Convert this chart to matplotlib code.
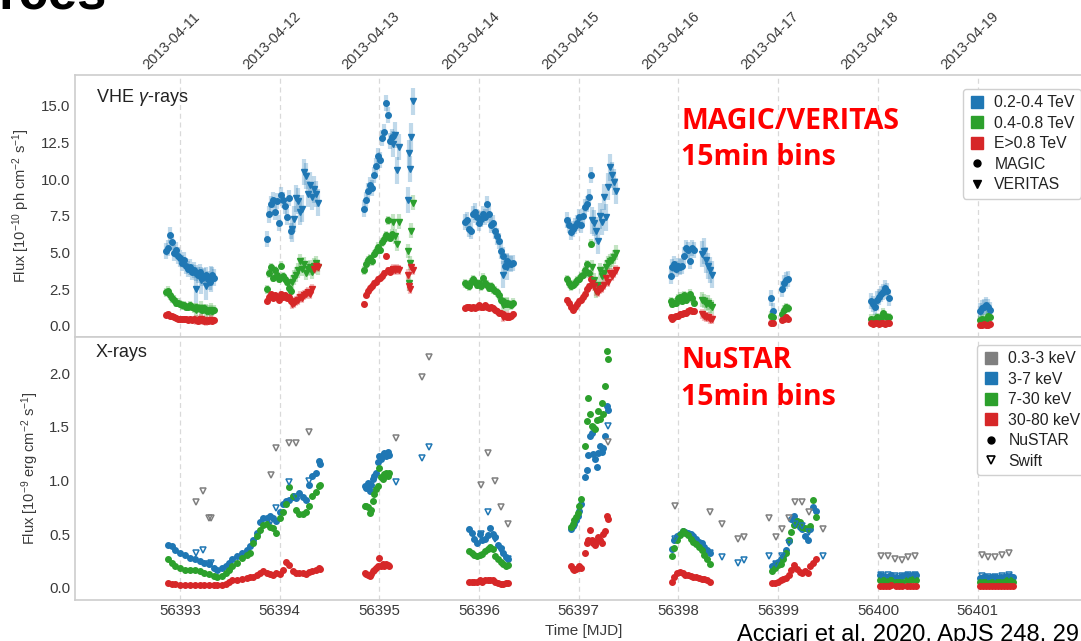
import matplotlib
matplotlib.use("Agg")
import matplotlib.pyplot as plt
from matplotlib.lines import Line2D
from matplotlib.transforms import ScaledTranslation

plt.rcParams['font.family'] = ['Liberation Sans', 'DejaVu Sans']
plt.rcParams['mathtext.fontset'] = 'custom'
plt.rcParams['mathtext.rm'] = 'Liberation Sans'
plt.rcParams['mathtext.it'] = 'Liberation Sans:italic'
plt.rcParams['mathtext.bf'] = 'Liberation Sans:bold'

# ------------------------------------------------------------------ data
mjd_ticks = [56393, 56394, 56395, 56396, 56397, 56398, 56399, 56400, 56401]
date_labels = ['2013-04-11', '2013-04-12', '2013-04-13', '2013-04-14', '2013-04-15',
               '2013-04-16', '2013-04-17', '2013-04-18', '2013-04-19']
vhe_bands = ['0.2-0.4 TeV', '0.4-0.8 TeV', 'E>0.8 TeV']
xray_bands = ['0.3-3 keV', '3-7 keV', '7-30 keV', '30-80 keV']

# MAGIC, 15 min bins  (flux in 1e-10 ph cm-2 s-1)
magic_t = [56392.86, 56392.88, 56392.90, 56392.92, 56392.94, 56392.96, 56392.98, 56393.00, 56393.02, 56393.04,
           56393.06, 56393.08, 56393.10, 56393.12, 56393.14, 56393.16, 56393.18, 56393.20, 56393.22, 56393.24,
           56393.26, 56393.28, 56393.30, 56393.32, 56393.34,
           56393.87, 56393.89, 56393.91, 56393.93, 56393.95, 56393.97, 56393.99, 56394.01, 56394.03, 56394.05,
           56394.07, 56394.09, 56394.11,
           56394.85, 56394.87, 56394.89, 56394.91, 56394.93, 56394.95, 56394.97, 56394.99, 56395.01, 56395.03,
           56395.05, 56395.07, 56395.09, 56395.11, 56395.13,
           56395.86, 56395.88, 56395.90, 56395.92, 56395.94, 56395.96, 56395.98, 56396.00, 56396.02, 56396.04,
           56396.06, 56396.08, 56396.10, 56396.12, 56396.14, 56396.16, 56396.18, 56396.20, 56396.22, 56396.24,
           56396.26, 56396.28, 56396.30, 56396.32, 56396.34,
           56396.88, 56396.90, 56396.92, 56396.94, 56396.96, 56396.98, 56397.00, 56397.02, 56397.04, 56397.06,
           56397.08, 56397.10, 56397.12,
           56397.92, 56397.94, 56397.96, 56397.98, 56398.00, 56398.02, 56398.04, 56398.06, 56398.08, 56398.10,
           56398.12, 56398.14, 56398.16,
           56398.93, 56398.95, 56399.04, 56399.06, 56399.08, 56399.10,
           56399.93, 56399.95, 56399.97, 56399.99, 56400.01, 56400.03, 56400.05, 56400.07, 56400.09, 56400.11,
           56401.02, 56401.04, 56401.06, 56401.08, 56401.10, 56401.12]
magic_lo = [5.1, 5.3, 6.2, 5.7, 5.0, 5.2, 4.8, 4.6, 4.3, 4.5, 4.1, 3.9, 4.0, 3.7, 3.8, 3.6, 3.5, 3.7, 3.3, 3.4,
            3.5, 3.2, 3.0, 3.5, 3.3,
            5.9, 7.6, 8.3, 8.6, 7.8, 8.5, 7.0, 8.9, 8.6, 8.2, 7.4, 8.7, 6.5,
            8.0, 8.6, 9.2, 9.6, 9.4, 10.3, 10.9, 11.6, 11.3, 12.8, 13.2, 15.2, 14.4, 12.6, 12.9,
            7.1, 7.2, 6.6, 6.5, 7.6, 7.8, 7.4, 7.0, 7.3, 7.6, 7.4, 8.3, 7.6, 6.9, 7.0, 6.5, 6.1, 5.8, 5.1, 4.8,
            4.1, 4.4, 4.3, 4.2, 4.3,
            7.2, 6.9, 6.4, 6.6, 6.8, 7.0, 7.4, 6.9, 7.5, 8.1, 8.3, 8.8, 10.3,
            3.4, 4.0, 4.2, 3.9, 4.1, 4.0, 4.1, 4.8, 5.3, 5.2, 4.4, 5.3, 5.2,
            1.9, 1.0, 2.5, 2.9, 3.1, 3.2,
            1.7, 1.5, 1.3, 1.8, 2.0, 2.2, 2.3, 2.6, 2.4, 1.9,
            1.0, 1.2, 1.3, 1.4, 1.3, 1.1]
magic_mid = [2.3, 2.4, 2.1, 1.9, 1.8, 1.6, 1.6, 1.5, 1.4, 1.4, 1.3, 1.3, 1.4, 1.3, 1.2, 1.3, 1.2, 1.2, 1.1, 1.2,
             1.1, 1.0, 1.1, 1.0, 1.1,
             2.5, 3.6, 4.0, 3.3, 3.8, 3.5, 3.2, 4.1, 3.4, 3.2, 3.0, 2.6, 2.4,
             3.8, 4.2, 4.5, 4.6, 4.4, 4.9, 5.1, 5.4, 5.2, 5.7, 5.9, 6.2, 7.2, 6.0, 6.3,
             2.9, 2.8, 2.7, 3.0, 3.2, 3.0, 2.8, 2.9, 2.7, 3.3, 2.9, 2.8, 2.6, 2.7, 2.5, 2.4, 2.3, 2.1, 1.8, 1.7,
             1.5, 1.6, 1.5, 1.4, 1.6,
             3.2, 2.9, 2.7, 2.8, 2.9, 3.1, 3.2, 3.4, 3.5, 3.8, 4.2, 3.6, 5.6,
             1.7, 1.5, 1.6, 1.6, 1.9, 2.0, 1.7, 2.1, 1.8, 2.0, 2.2, 1.9, 1.6,
             0.7, 0.6, 0.8, 1.1, 1.3, 1.2,
             0.5, 0.4, 0.5, 0.6, 0.5, 0.6, 0.9, 0.7, 0.6, 0.6,
             0.4, 0.5, 0.4, 0.5, 0.7, 0.6]
magic_hi = [0.75, 0.8, 0.7, 0.65, 0.6, 0.55, 0.5, 0.5, 0.45, 0.5, 0.45, 0.4, 0.45, 0.4, 0.45, 0.4, 0.35, 0.4, 0.4,
            0.35, 0.4, 0.35, 0.4, 0.35, 0.4,
            1.7, 2.0, 2.2, 1.9, 2.1, 2.0, 1.8, 2.2, 2.0, 2.1, 1.9, 2.0, 1.7,
            1.5, 2.1, 2.4, 2.6, 2.7, 2.9, 3.0, 3.2, 3.3, 3.4, 3.6, 4.8, 3.8, 3.7, 3.9,
            1.2, 1.3, 1.3, 1.2, 1.3, 1.2, 1.3, 1.4, 1.3, 1.3, 1.4, 1.3, 1.2, 1.3, 1.2, 1.1, 1.0, 0.9, 0.9, 0.8,
            0.7, 0.6, 0.6, 0.7, 0.8,
            1.8, 1.6, 1.3, 1.1, 1.3, 1.5, 1.7, 1.8, 2.0, 2.2, 2.5, 2.7, 3.2,
            0.6, 0.5, 0.6, 0.7, 0.7, 0.8, 0.8, 0.9, 0.9, 1.0, 1.1, 1.0, 1.0,
            0.2, 0.2, 0.4, 0.5, 0.6, 0.5,
            0.2, 0.15, 0.2, 0.2, 0.15, 0.2, 0.2, 0.15, 0.2, 0.2,
            0.1, 0.1, 0.15, 0.1, 0.1, 0.15]
magic_err = [0.55, 0.3, 0.2]          # typical 1-sigma per band

# VERITAS, 15 min bins
veritas_t = [56393.16, 56393.21, 56393.26, 56393.31,
             56394.12, 56394.14, 56394.16, 56394.18, 56394.20, 56394.22, 56394.24, 56394.26, 56394.28, 56394.30,
             56394.32, 56394.34, 56394.36, 56394.38,
             56395.14, 56395.16, 56395.18, 56395.20, 56395.29, 56395.30, 56395.31, 56395.32, 56395.34,
             56396.24, 56396.28,
             56397.13, 56397.15, 56397.17, 56397.19, 56397.21, 56397.23, 56397.25, 56397.27, 56397.29, 56397.31,
             56397.33, 56397.35, 56397.37,
             56398.24, 56398.26, 56398.28, 56398.30, 56398.32, 56398.34]
veritas_lo = [2.5, 3.1, 2.7, 3.2,
              6.6, 7.3, 8.7, 8.5, 7.8, 8.0, 10.5, 10.2, 9.0, 9.6, 8.8, 9.3, 9.0, 8.4,
              12.4, 13.0, 10.6, 12.2, 8.6, 11.8, 10.7, 12.9, 15.3,
              3.5, 4.0,
              7.2, 7.0, 6.5, 5.8, 7.5, 7.1, 8.8, 7.4, 9.5, 10.8, 10.3, 9.8, 9.2,
              4.9, 5.1, 4.5, 4.1, 3.8, 3.5]
veritas_mid = [1.1, 1.2, 1.0, 1.1,
               3.0, 3.3, 3.5, 3.8, 4.4, 3.9, 4.2, 3.6, 3.9, 4.0, 3.7, 4.1, 4.3, 4.0,
               7.1, 6.1, 5.6, 7.1, 5.1, 2.9, 4.3, 6.5, 8.4,
               1.4, 1.5,
               4.0, 3.1, 2.4, 2.8, 3.8, 3.4, 3.6, 4.0, 4.3, 4.4, 4.5, 4.7, 5.0,
               1.8, 1.7, 1.5, 1.6, 1.4, 1.3]
veritas_hi = [0.4, 0.45, 0.35, 0.4,
              1.5, 1.6, 1.7, 1.8, 2.0, 1.9, 2.1, 2.2, 2.3, 2.2, 2.5, 3.9, 4.1, 4.0,
              3.9, 3.8, 3.9, 3.8, 3.5, 2.7, 2.5, 4.0, 3.8,
              0.6, 0.7,
              2.9, 2.7, 2.4, 2.3, 2.5, 2.6, 2.8, 3.3, 3.0, 3.6, 3.4, 3.6, 3.8,
              0.8, 0.7, 0.6, 0.6, 0.5, 0.5]
veritas_err = [0.9, 0.5, 0.35]

# NuSTAR, 15 min bins (flux in 1e-9 erg cm-2 s-1)
nustar_t = [56392.885, 56392.918, 56392.951, 56393.000, 56393.049, 56393.098, 56393.148, 56393.197, 56393.246,
            56393.295, 56393.344, 56393.377, 56393.426, 56393.459, 56393.492, 56393.525, 56393.574, 56393.623,
            56393.672, 56393.705, 56393.738, 56393.770, 56393.803, 56393.836, 56393.869, 56393.902, 56393.934,
            56393.967, 56394.000, 56394.033, 56394.066, 56394.098, 56394.131, 56394.164, 56394.197, 56394.230,
            56394.262, 56394.295, 56394.328, 56394.361, 56394.393, 56394.410,
            56394.852, 56394.869, 56394.885, 56394.902, 56394.918, 56394.934, 56394.951, 56394.967, 56394.984,
            56395.000, 56395.016, 56395.033, 56395.049, 56395.066, 56395.082, 56395.098,
            56395.902, 56395.928, 56395.954, 56395.980, 56396.007, 56396.033, 56396.059, 56396.085, 56396.111,
            56396.138, 56396.164, 56396.190, 56396.216, 56396.243, 56396.269, 56396.295,
            56396.922, 56396.939, 56396.956, 56396.973, 56396.990, 56397.007, 56397.024,
            56397.061, 56397.078, 56397.095, 56397.112, 56397.129, 56397.146, 56397.163, 56397.180, 56397.197,
            56397.214, 56397.231, 56397.247, 56397.264, 56397.281, 56397.298,
            56397.932, 56397.959, 56397.986, 56398.014, 56398.041, 56398.068, 56398.095, 56398.122, 56398.149,
            56398.176, 56398.203, 56398.231, 56398.258, 56398.285, 56398.312,
            56398.942, 56398.969, 56398.997, 56399.024, 56399.051, 56399.078, 56399.105, 56399.132, 56399.159,
            56399.186, 56399.214, 56399.241, 56399.268, 56399.295, 56399.322, 56399.349, 56399.376,
            56400.02, 56400.05, 56400.08, 56400.11, 56400.13, 56400.18, 56400.21, 56400.24, 56400.29, 56400.32,
            56400.35, 56400.38,
            56401.02, 56401.05, 56401.08, 56401.11, 56401.14, 56401.17, 56401.20, 56401.23, 56401.26, 56401.29,
            56401.32, 56401.35]
nustar_3_7 = [0.40, 0.39, 0.35, 0.33, 0.31, 0.28, 0.27, 0.25, 0.23, 0.22, 0.19, 0.17, 0.19, 0.20, 0.23, 0.27,
              0.30, 0.33, 0.35, 0.39, 0.45, 0.51, 0.61, 0.65, 0.65, 0.67, 0.65, 0.62, 0.71, 0.78, 0.81, 0.82,
              0.85, 0.84, 0.88, 0.85, 0.82, 0.96, 1.04, 1.07, 1.18, 1.15,
              0.95, 0.93, 0.98, 0.90, 0.96, 1.01, 1.04, 1.07, 1.17, 1.23, 1.20, 1.24, 1.26, 1.23, 1.27, 1.24,
              0.55, 0.51, 0.46, 0.42, 0.50, 0.45, 0.46, 0.49, 0.56, 0.50, 0.47, 0.40, 0.37, 0.33, 0.29, 0.27,
              0.55, 0.58, 0.60, 0.63, 0.67, 0.72, 0.78,
              1.03, 1.10, 1.24, 1.41, 1.44, 1.25, 1.20, 1.13, 1.26, 1.32, 1.27, 1.30, 1.41, 1.69, 1.66,
              0.36, 0.45, 0.48, 0.50, 0.53, 0.52, 0.51, 0.50, 0.48, 0.46, 0.43, 0.42, 0.38, 0.35, 0.33,
              0.20, 0.22, 0.24, 0.27, 0.30, 0.35, 0.44, 0.64, 0.67, 0.62, 0.57, 0.55, 0.48, 0.45, 0.55, 0.75, 0.72,
              0.12, 0.11, 0.10, 0.11, 0.12, 0.10, 0.09, 0.11, 0.12, 0.11, 0.12, 0.12,
              0.09, 0.10, 0.10, 0.09, 0.10, 0.10, 0.09, 0.10, 0.10, 0.11, 0.11, 0.10]
nustar_7_30 = [0.27, 0.23, 0.20, 0.19, 0.17, 0.17, 0.17, 0.16, 0.14, 0.13, 0.11, 0.10, 0.11, 0.14, 0.17, 0.20,
               0.23, 0.28, 0.31, 0.33, 0.42, 0.48, 0.54, 0.59, 0.60, 0.57, 0.56, 0.51, 0.65, 0.71, 0.78, 0.94,
               0.86, 0.73, 0.69, 0.69, 0.71, 0.76, 0.86, 0.89, 0.95, 0.96,
               0.76, 0.76, 0.75, 0.70, 0.73, 0.81, 0.87, 0.92, 0.95, 1.12, 1.03, 1.01, 1.06, 1.07, 1.04, 1.07,
               0.34, 0.33, 0.31, 0.30, 0.31, 0.32, 0.34, 0.36, 0.38, 0.36, 0.30, 0.27, 0.24, 0.22, 0.20, 0.21,
               0.57, 0.60, 0.63, 0.66, 0.70, 0.76, 0.83,
               1.32, 1.55, 1.77, 1.62, 1.51, 1.50, 1.48, 1.56, 1.65, 1.57, 1.72, 1.62, 1.88, 2.21, 2.13,
               0.30, 0.37, 0.45, 0.49, 0.53, 0.51, 0.49, 0.46, 0.43, 0.41, 0.38, 0.35, 0.31, 0.27, 0.22,
               0.16, 0.19, 0.21, 0.22, 0.27, 0.33, 0.45, 0.52, 0.59, 0.62, 0.61, 0.57, 0.56, 0.55, 0.58, 0.82, 0.66,
               0.07, 0.07, 0.06, 0.07, 0.07, 0.06, 0.06, 0.06, 0.07, 0.07, 0.08, 0.07,
               0.06, 0.06, 0.06, 0.05, 0.06, 0.06, 0.06, 0.06, 0.06, 0.07, 0.07, 0.06]
nustar_30_80 = [0.05, 0.04, 0.04, 0.03, 0.03, 0.03, 0.03, 0.03, 0.03, 0.03, 0.03, 0.03, 0.03, 0.04, 0.06, 0.07,
                0.07, 0.08, 0.09, 0.10, 0.10, 0.12, 0.14, 0.16, 0.14, 0.13, 0.12, 0.14, 0.13, 0.17, 0.24, 0.21,
                0.16, 0.14, 0.14, 0.14, 0.13, 0.15, 0.16, 0.17, 0.19, 0.18,
                0.14, 0.13, 0.12, 0.11, 0.13, 0.16, 0.17, 0.19, 0.20, 0.28, 0.20, 0.22, 0.20, 0.22, 0.21, 0.20,
                0.06, 0.06, 0.06, 0.06, 0.07, 0.06, 0.07, 0.07, 0.07, 0.07, 0.06, 0.05, 0.04, 0.04, 0.05, 0.05,
                0.20, 0.18, 0.17, 0.18, 0.19, 0.20, 0.19,
                0.33, 0.42, 0.45, 0.54, 0.45, 0.42, 0.40, 0.44, 0.47, 0.45, 0.42, 0.50, 0.53, 0.67, 0.64,
                0.06, 0.10, 0.14, 0.15, 0.14, 0.12, 0.12, 0.11, 0.10, 0.10, 0.09, 0.08, 0.08, 0.07, 0.06,
                0.05, 0.05, 0.06, 0.07, 0.08, 0.09, 0.12, 0.17, 0.21, 0.18, 0.15, 0.14, 0.16, 0.14, 0.20, 0.23, 0.27,
                0.02, 0.02, 0.02, 0.02, 0.03, 0.02, 0.02, 0.02, 0.02, 0.02, 0.02, 0.02,
                0.02, 0.02, 0.02, 0.02, 0.02, 0.02, 0.02, 0.02, 0.02, 0.02, 0.02, 0.02]

# Swift-XRT
swift_t = [56393.157, 56393.230, 56393.295, 56393.310,
           56393.918, 56393.967, 56394.098, 56394.164, 56394.295,
           56395.164, 56395.430, 56395.495,
           56396.020, 56396.085, 56396.157, 56396.223, 56396.289,
           56397.298,
           56397.966, 56398.315, 56398.434, 56398.593, 56398.654,
           56398.905, 56398.973, 56399.041, 56399.108, 56399.169, 56399.241, 56399.305, 56399.451,
           56400.034, 56400.102, 56400.169, 56400.237, 56400.305, 56400.373,
           56401.041, 56401.108, 56401.176, 56401.244, 56401.312]
swift_0_3_3 = [0.80, 0.90, 0.65, 0.65,
               1.05, 1.30, 1.35, 1.35, 1.45,
               1.40, 1.96, 2.15,
               0.96, 1.26, 1.00, 0.75, 0.60,
               1.36,
               0.76, 0.71, 0.60, 0.46, 0.47,
               0.65, 0.47, 0.55, 0.65, 0.80, 0.80, 0.71, 0.55,
               0.30, 0.30, 0.27, 0.26, 0.29, 0.30,
               0.31, 0.29, 0.29, 0.31, 0.33]
swift_3_7 = [0.33, 0.35, 0.22, 0.23,
             0.62, 0.74, 0.99, 0.85, 1.00,
             0.99, 1.21, 1.31,
             0.50, 0.71, 0.46, 0.35, 0.27,
             1.51,
             0.46, 0.33, 0.29, 0.23, 0.26,
             0.30, 0.22, 0.30, 0.42, 0.60, 0.58, 0.52, 0.30,
             0.12, 0.12, 0.11, 0.11, 0.12, 0.12,
             0.11, 0.10, 0.10, 0.11, 0.12]

# ------------------------------------------------------------------ figure
W, H = 1081, 641
fig = plt.figure(figsize=(W / 100, H / 100), dpi=100)
L, R = 75, 1092
ax1 = fig.add_axes([L / W, 1 - 337 / H, (R - L) / W, (337 - 75) / H])
ax2 = fig.add_axes([L / W, 1 - 600 / H, (R - L) / W, (600 - 337) / H])

TXT = '#3a3a3a'
SPINE = '#cdcdcd'
GRID = '#d9d9d9'
C_B, C_G, C_R, C_K = '#1f77b4', '#2ca02c', '#d62728', '#7f7f7f'

for ax in (ax1, ax2):
    ax.set_xlim(56391.948, 56402.147)
    ax.set_xticks(mjd_ticks)
    ax.grid(axis='x', color=GRID, ls=(0, (4, 3)), lw=0.9)
    ax.grid(axis='y', visible=False)
    ax.set_axisbelow(True)
    for s in ax.spines.values():
        s.set_color(SPINE)
        s.set_linewidth(1.2)
    ax.tick_params(length=0, labelsize=10.8, labelcolor=TXT)
    ax.tick_params(axis='y', pad=3.5)
    ax.tick_params(axis='x', pad=3)
ax1.tick_params(axis='x', labelbottom=False)
ax2.set_xticklabels([str(m) for m in mjd_ticks])

# ---- VHE panel
ax1.set_ylim(-0.75, 17.1)
ax1.set_yticks([0, 2.5, 5, 7.5, 10, 12.5, 15])
vcols = [C_B, C_G, C_R]
for t, vals, errs in ((magic_t, (magic_lo, magic_mid, magic_hi), magic_err),
                      (veritas_t, (veritas_lo, veritas_mid, veritas_hi), veritas_err)):
    for v, e, c in zip(vals, errs, vcols):
        ax1.errorbar(t, v, yerr=e, fmt='none', ecolor=c, alpha=0.28, elinewidth=3, capsize=0, zorder=2)
for v, c in zip((magic_lo, magic_mid, magic_hi), vcols):
    ax1.plot(magic_t, v, ls='none', marker='o', ms=4, color=c, mec=c, zorder=3)
for v, c in zip((veritas_lo, veritas_mid, veritas_hi), vcols):
    ax1.plot(veritas_t, v, ls='none', marker='v', ms=4.5, color=c, mec=c, zorder=3)

ax1.set_ylabel('Flux [10$^{-10}$ ph cm$^{-2}$ s$^{-1}$]', fontsize=10.5, color=TXT, labelpad=6)

# ---- X-ray panel
ax2.set_ylim(-0.112, 2.336)
ax2.set_yticks([0, 0.5, 1.0, 1.5, 2.0])
for v, c in zip((nustar_3_7, nustar_7_30, nustar_30_80), (C_B, C_G, C_R)):
    ax2.plot(nustar_t, v, ls='none', marker='o', ms=4, color=c, mec=c, zorder=3)
ax2.plot(swift_t, swift_0_3_3, ls='none', marker='v', ms=5, mfc='none', mec=C_K, mew=1.1, zorder=4)
ax2.plot(swift_t, swift_3_7, ls='none', marker='v', ms=5, mfc='none', mec=C_B, mew=1.1, zorder=4)
ax2.set_ylabel('Flux [10$^{-9}$ erg cm$^{-2}$ s$^{-1}$]', fontsize=10.5, color=TXT, labelpad=6)
ax2.set_xlabel('Time [MJD]', fontsize=11, color=TXT, labelpad=4)

# ---- date axis on top
sec = ax1.secondary_xaxis('top')
sec.set_xticks(mjd_ticks)
sec.set_xticklabels(date_labels)
sec.tick_params(length=0, pad=2, labelsize=10.5, labelcolor=TXT, labelrotation=45)
shift = ScaledTranslation(-8 / 100, 0, fig.dpi_scale_trans)
for lab in sec.get_xticklabels():
    lab.set_ha('center')
    lab.set_transform(lab.get_transform() + shift)
sec.spines['top'].set_visible(False)

# ---- panel labels
fig.text(96 / W, 1 - 102 / H, 'VHE $\\gamma$-rays', fontsize=13, color='#222222', va='baseline')
fig.text(96 / W, 1 - 357 / H, 'X-rays', fontsize=13, color='#222222', va='baseline')

# ---- legends
def sq(c):
    return Line2D([], [], ls='none', marker='s', ms=8.5, color=c, mec=c)

leg_kw = dict(fontsize=11.3, labelspacing=0.35, handlelength=1.0, handletextpad=0.6, borderpad=0.4,
              borderaxespad=0, frameon=True, fancybox=True, framealpha=1, edgecolor='#d0d0d0',
              loc='upper left', bbox_transform=fig.transFigure)
h1 = [sq(C_B), sq(C_G), sq(C_R),
      Line2D([], [], ls='none', marker='o', ms=5, color='k'),
      Line2D([], [], ls='none', marker='v', ms=6, color='k')]
lg1 = ax1.legend(h1, vhe_bands + ['MAGIC', 'VERITAS'], bbox_to_anchor=(963 / W, 1 - 89 / H), **leg_kw)
for tx in lg1.get_texts():
    tx.set_color('#222222')
h2 = [sq(C_K), sq(C_B), sq(C_G), sq(C_R),
      Line2D([], [], ls='none', marker='o', ms=5, color='k'),
      Line2D([], [], ls='none', marker='v', ms=6, mfc='none', mec='k', mew=1.2)]
lg2 = ax2.legend(h2, xray_bands + ['NuSTAR', 'Swift'], bbox_to_anchor=(977 / W, 1 - 345 / H), **leg_kw)
for tx in lg2.get_texts():
    tx.set_color('#222222')

# ---- red annotations on the slide
red_kw = dict(color='#ff0000', fontsize=20.5, fontweight='bold', family=['Open Sans', 'DejaVu Sans'],
              va='baseline', ha='left')
fig.text(681 / W, 1 - 129 / H, 'MAGIC/VERITAS', **red_kw)
fig.text(681 / W, 1 - 165 / H, '15min bins', **red_kw)
fig.text(681 / W, 1 - 368 / H, 'NuSTAR', **red_kw)
fig.text(681 / W, 1 - 405 / H, '15min bins', **red_kw)

# ---- slide text cut by the crop
fig.text(-2 / W, 1 - 10 / H, 'rces', fontsize=38, fontweight='bold', color='black', va='baseline')
fig.text(737 / W, 1 - 624 / H, 'Acciari et al. 2020, ApJS 248, 29', fontsize=17, color='black', va='top')

fig.savefig('out.png', dpi=100)
